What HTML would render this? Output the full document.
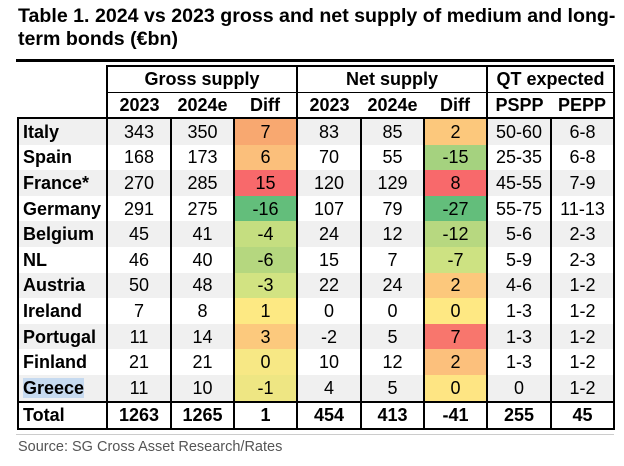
<!DOCTYPE html><html><head><style>
body{margin:0;width:624px;height:466px;background:#fff;font-family:"Liberation Sans",Arial,sans-serif;position:relative;overflow:hidden}
.t{position:absolute;left:18px;top:5px;font-weight:bold;font-size:19.6px;line-height:23px;color:#000;white-space:nowrap}
.rule{position:absolute;left:16px;top:59px;width:598px;height:3px;background:#000}
table{position:absolute;left:17px;top:65px;border-collapse:collapse;font-size:18px}
td{padding:0;text-align:center;height:25.6px;line-height:24px}
td.c{text-align:left;font-weight:bold;padding-left:4px}
.h td{font-weight:bold;font-size:18px;height:24.5px}
.g td{background:#f0f0f0}
.br{border-right:2px solid #000}
.src{position:absolute;left:18px;top:439px;font-size:14.5px;color:#555}
.sl{position:absolute;left:16px;top:434px;width:598px;height:1px;background:#ccc}
</style></head><body>
<div class="t">Table 1. 2024 vs 2023 gross and net supply of medium and long-<br>term bonds (€bn)</div>
<div class="rule"></div>
<table>
<colgroup><col style="width:89px"><col style="width:64px"><col style="width:63px"><col style="width:63px"><col style="width:64px"><col style="width:63px"><col style="width:63px"><col style="width:64px"><col style="width:63px"></colgroup>
<tr class="h"><td style="border-right:2px solid #000"></td><td colspan="3" style="border-top:2px solid #000;border-bottom:1px solid #000;border-right:2px solid #000">Gross supply</td><td colspan="3" style="border-top:2px solid #000;border-bottom:1px solid #000;border-right:2px solid #000">Net supply</td><td colspan="2" style="border-top:2px solid #000;border-bottom:1px solid #000;border-right:2px solid #000">QT expected</td></tr>
<tr class="h"><td style="border-right:2px solid #000"></td><td>2023</td><td>2024e</td><td class="br">Diff</td><td>2023</td><td>2024e</td><td class="br">Diff</td><td>PSPP</td><td class="br">PEPP</td></tr>
<tbody style="border:2px solid #000">
<tr class="g"><td class="c br">Italy</td><td class="br">343</td><td class="br">350</td><td class="br" style="background:#f8a870">7</td><td class="br">83</td><td class="br">85</td><td class="br" style="background:#fcc87c">2</td><td class="br">50-60</td><td>6-8</td></tr>
<tr><td class="c br">Spain</td><td class="br">168</td><td class="br">173</td><td class="br" style="background:#fbbf7b">6</td><td class="br">70</td><td class="br">55</td><td class="br" style="background:#a5d27f">-15</td><td class="br">25-35</td><td>6-8</td></tr>
<tr class="g"><td class="c br">France*</td><td class="br">270</td><td class="br">285</td><td class="br" style="background:#f8696b">15</td><td class="br">120</td><td class="br">129</td><td class="br" style="background:#f8696b">8</td><td class="br">45-55</td><td>7-9</td></tr>
<tr><td class="c br">Germany</td><td class="br">291</td><td class="br">275</td><td class="br" style="background:#63be7b">-16</td><td class="br">107</td><td class="br">79</td><td class="br" style="background:#63be7b">-27</td><td class="br">55-75</td><td>11-13</td></tr>
<tr class="g"><td class="c br">Belgium</td><td class="br">45</td><td class="br">41</td><td class="br" style="background:#c5de80">-4</td><td class="br">24</td><td class="br">12</td><td class="br" style="background:#b7d880">-12</td><td class="br">5-6</td><td>2-3</td></tr>
<tr><td class="c br">NL</td><td class="br">46</td><td class="br">40</td><td class="br" style="background:#b5d77f">-6</td><td class="br">15</td><td class="br">7</td><td class="br" style="background:#cde282">-7</td><td class="br">5-9</td><td>2-3</td></tr>
<tr class="g"><td class="c br">Austria</td><td class="br">50</td><td class="br">48</td><td class="br" style="background:#d2e382">-3</td><td class="br">22</td><td class="br">24</td><td class="br" style="background:#fcc87c">2</td><td class="br">4-6</td><td>1-2</td></tr>
<tr><td class="c br">Ireland</td><td class="br">7</td><td class="br">8</td><td class="br" style="background:#fde983">1</td><td class="br">0</td><td class="br">0</td><td class="br" style="background:#fee883">0</td><td class="br">1-3</td><td>1-2</td></tr>
<tr class="g"><td class="c br">Portugal</td><td class="br">11</td><td class="br">14</td><td class="br" style="background:#fcc97d">3</td><td class="br">-2</td><td class="br">5</td><td class="br" style="background:#f8766d">7</td><td class="br">1-3</td><td>1-2</td></tr>
<tr><td class="c br">Finland</td><td class="br">21</td><td class="br">21</td><td class="br" style="background:#f7e885">0</td><td class="br">10</td><td class="br">12</td><td class="br" style="background:#fcc07c">2</td><td class="br">1-3</td><td>1-2</td></tr>
<tr class="g"><td class="c br"><span style="background:#c6daf0">Greece</span></td><td class="br">11</td><td class="br">10</td><td class="br" style="background:#eee683">-1</td><td class="br">4</td><td class="br">5</td><td class="br" style="background:#fee583">0</td><td class="br">0</td><td>1-2</td></tr>
</tbody>
<tbody style="border:2px solid #000;font-weight:bold">
<tr><td class="c br">Total</td><td class="br">1263</td><td class="br">1265</td><td class="br">1</td><td class="br">454</td><td class="br">413</td><td class="br">-41</td><td class="br">255</td><td>45</td></tr>
</tbody>
</table>
<div class="sl"></div>
<div class="src">Source: SG Cross Asset Research/Rates</div>
</body></html>
